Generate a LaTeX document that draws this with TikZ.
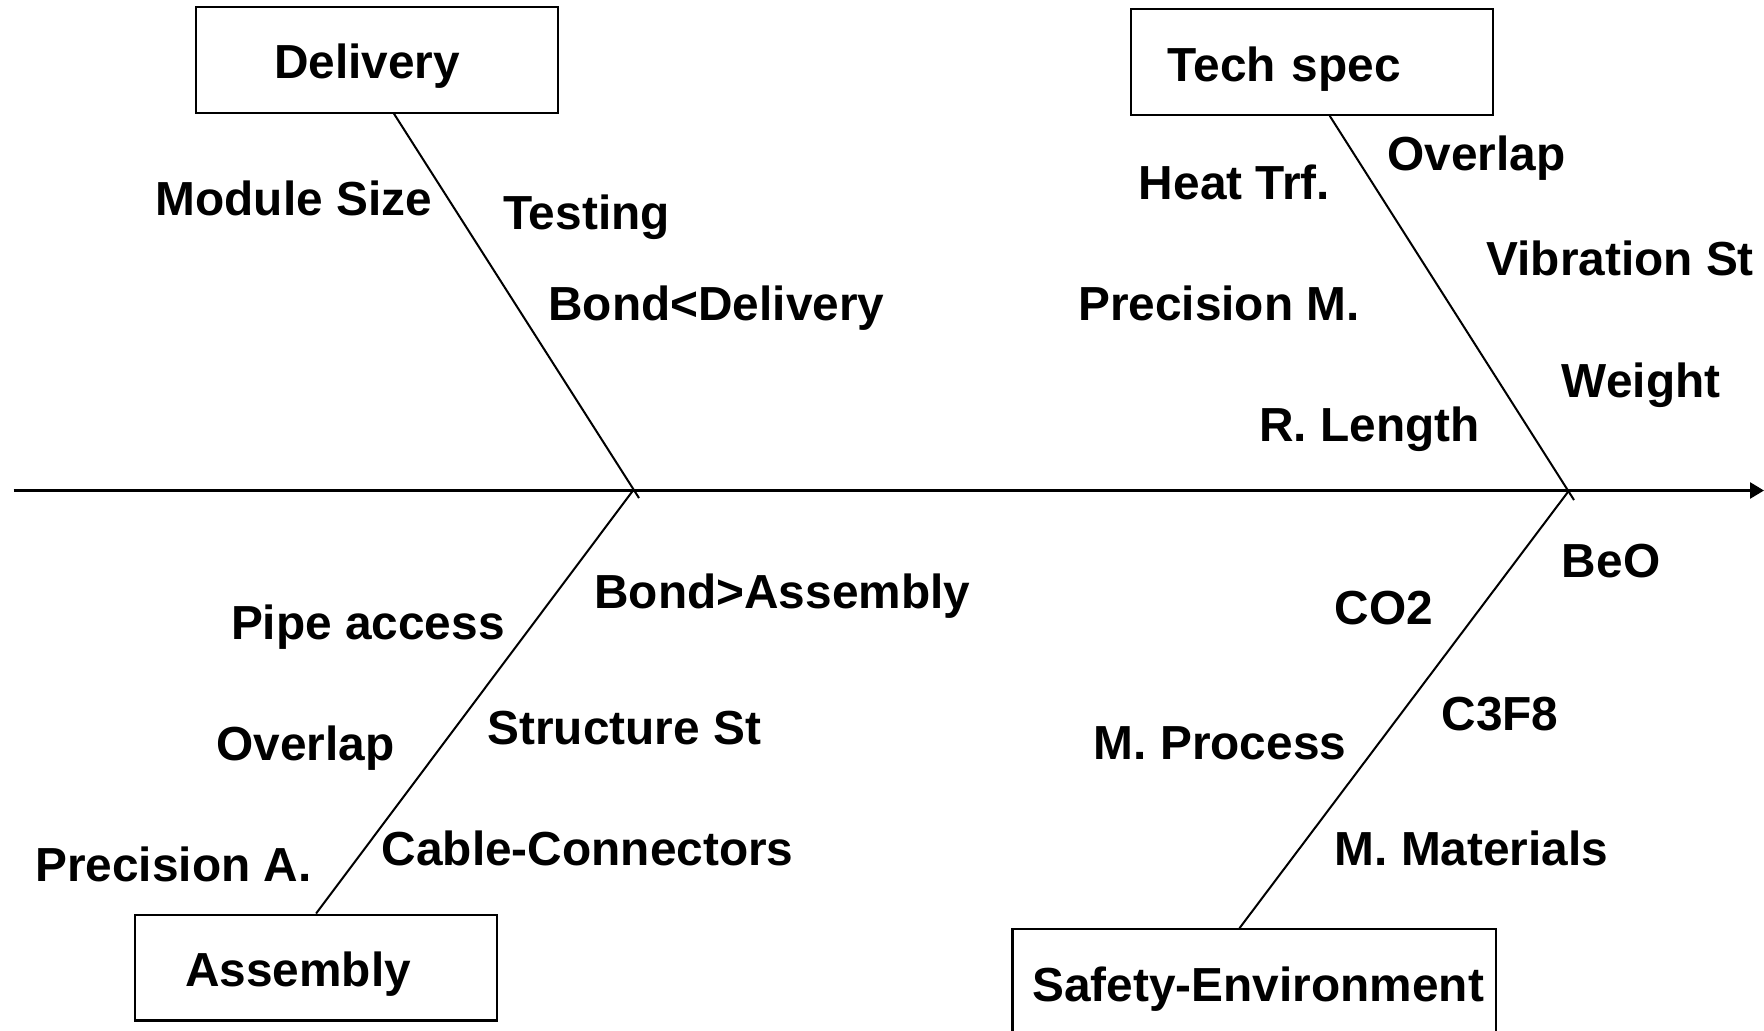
\documentclass[tikz,border=0pt]{standalone}
\usepackage{fontspec}
\setmainfont{Liberation Sans}
\usetikzlibrary{arrows.meta}

\tikzset{
  cause/.style={draw, line width=1.1pt, minimum height=52.9pt, align=left, inner ysep=0pt,
    text height=19.2pt, text depth=0pt, font=\bfseries\fontsize{23.9}{28}\selectfont},
  item/.style={anchor=base west, inner sep=0pt, font=\bfseries\fontsize{23.9}{28}\selectfont},
  bone/.style={line width=1pt}
}

\begin{document}
\begin{tikzpicture}[x=0.5pt, y=-0.5pt]
\useasboundingbox (0,0) rectangle (1764,1030);
\clip (0,0) rectangle (1764,1030);

% Spine
\coordinate (tail) at (13.5,490.5);
\coordinate (head) at (1764,490.5);
\coordinate (jl) at (633,490.5);
\coordinate (jr) at (1569,490.5);
\coordinate (jlt) at (639,498);
\coordinate (jrt) at (1574,500);
\draw[line width=1.3pt, -{Triangle[length=7pt,width=8pt]}] (tail) -- (head);

% Cause boxes
\node[cause, text width=103pt, inner xsep=39pt] (delivery) at (377,59.75) {Delivery};
\node[cause, text width=144pt, inner xsep=18.5pt] (techspec) at (1311.75,61.9) {Tech spec};
\node[cause, text width=131pt, inner xsep=25pt] (assembly) at (316.1,967.5) {Assembly};
\node[cause, align=center, minimum width=241.75pt] (safety) at (1254.25,982.2) {\hspace*{4pt}Safety-Environment};

% Bones
\draw[bone] ([xshift=8.5pt]delivery.south) -- (jlt);
\draw[bone] ([xshift=9pt]techspec.south) -- (jrt);
\draw[bone] (assembly.north) -- (jl);
\draw[bone] ([xshift=-7.4pt]safety.north) -- (jr);

% Delivery
\node[item] (modsize) at (155.25,215) {Module Size};
\node[item] (testing) at (502.9,229.6) {Testing};
\node[item] (bonddel) at (547.9,320.75) {Bond<Delivery};

% Tech spec
\node[item] (overlapt) at (1387.1,170) {Overlap};
\node[item] (heattrf) at (1138.5,199.25) {Heat Trf.};
\node[item] (vibst) at (1486.1,275.75) {Vibration St};
\node[item] (precm) at (1077.75,320.75) {Precision M.};
\node[item] (weight) at (1561.5,397.25) {Weight};
\node[item] (rlength) at (1258.9,441.1) {R. Length};

% Assembly
\node[item] (pipeacc) at (230.6,639.1) {Pipe access};
\node[item] (bondass) at (594,608.75) {Bond>Assembly};
\node[item] (overlapb) at (216,760.6) {Overlap};
\node[item] (structst) at (487.1,744.9) {Structure St};
\node[item] (preca) at (34.9,881) {Precision A.};
\node[item] (cableconn) at (381.4,865.25) {Cable-Connectors};

% Safety-Environment
\node[item] (beo) at (1561.5,577.25) {BeO};
\node[item] (cotwo) at (1334.25,624.5) {CO2};
\node[item] (cthree) at (1441.1,730.25) {C3F8};
\node[item] (mproc) at (1093.5,759.5) {M. Process};
\node[item] (mmat) at (1334.25,865.25) {M. Materials};
\end{tikzpicture}
\end{document}
